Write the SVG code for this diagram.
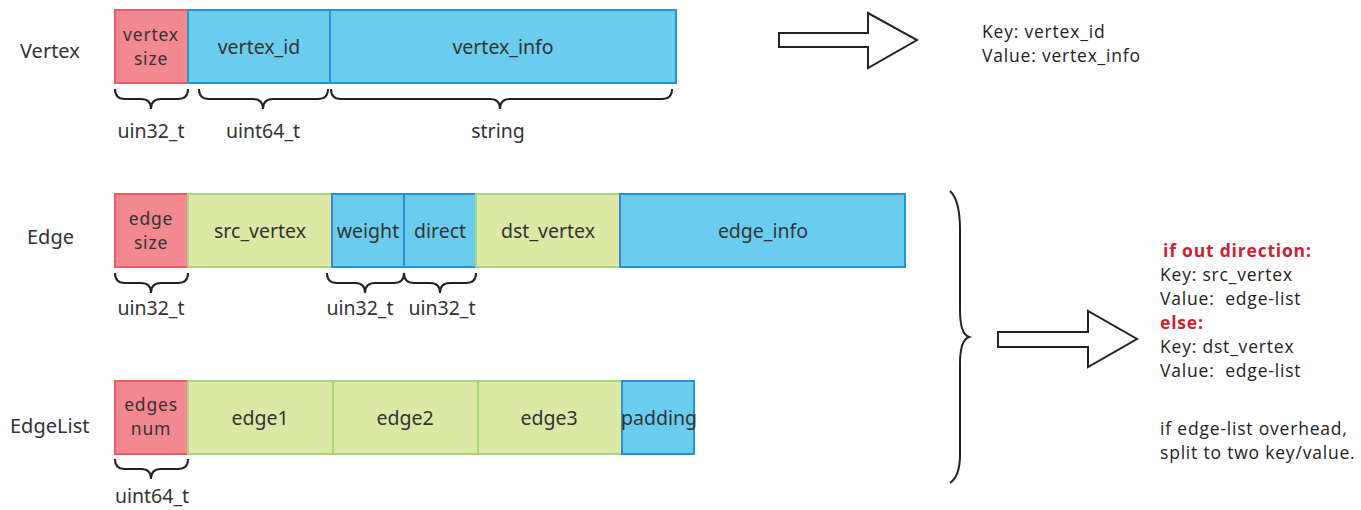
<svg xmlns="http://www.w3.org/2000/svg" width="1361" height="510" viewBox="0 0 1361 510">
<style>
.r{fill:#f4888f;stroke:#ef5a68;stroke-width:2}
.b{fill:#6bcdee;stroke:#2a90d6;stroke-width:2}
.g{fill:#dce8a6;stroke:#a9d67a;stroke-width:2}
.t{font-family:"Noto Sans","Liberation Sans",sans-serif;font-size:19.5px;fill:#333;text-anchor:middle;dominant-baseline:central}
.s{font-family:"Noto Sans","Liberation Sans",sans-serif;font-size:17.5px;letter-spacing:0.8px;fill:#333;text-anchor:middle;dominant-baseline:central}
.l{font-family:"Noto Sans","Liberation Sans",sans-serif;font-size:20px;fill:#333}
.k{font-family:"Open Sans","Liberation Sans",sans-serif;font-size:17.5px;letter-spacing:0.8px;fill:#222;white-space:pre}
.h{font-family:"Open Sans","Liberation Sans",sans-serif;font-size:17.5px;letter-spacing:0.8px;fill:#d0202f;font-weight:bold}
.br{fill:none;stroke:#222;stroke-width:2}
.ar{fill:#fff;stroke:#222;stroke-width:2}
</style>
<g id="labels">
<text class="l" x="20" y="58">Vertex</text>
<text class="l" x="27" y="244">Edge</text>
<text class="l" x="10" y="433">EdgeList</text>
</g>
<g id="vertex">
<rect class="r" x="115" y="10" width="73" height="73"/>
<rect class="b" x="188" y="10" width="142" height="73"/>
<rect class="b" x="330" y="10" width="346" height="73"/>
<text class="s" x="151" y="34">vertex</text>
<text class="s" x="151" y="58">size</text>
<text class="t" x="259" y="46">vertex_id</text>
<text class="t" x="503" y="46">vertex_info</text>
<path class="br" d="M115 89 Q115 99 125 99 L141 99 Q151 99 151 109 Q151 99 161 99 L178 99 Q188 99 188 89"/>
<path class="br" d="M199 89 Q199 99 209 99 L253 99 Q263 99 263 109 Q263 99 273 99 L318 99 Q328 99 328 89"/>
<path class="br" d="M331 89 Q331 99 341 99 L490 99 Q500 99 500 109 Q500 99 510 99 L662 99 Q672 99 672 89"/>
<text class="t" x="151" y="130">uin32_t</text>
<text class="t" x="263" y="130">uint64_t</text>
<text class="t" x="498" y="130">string</text>
</g>
<g id="edge">
<rect class="r" x="115" y="194" width="73" height="73"/>
<rect class="g" x="188" y="194" width="144" height="73"/>
<rect class="b" x="332" y="194" width="72" height="73"/>
<rect class="b" x="404" y="194" width="72" height="73"/>
<rect class="g" x="476" y="194" width="144" height="73"/>
<rect class="b" x="620" y="194" width="285" height="73"/>
<text class="s" x="151" y="218">edge</text>
<text class="s" x="151" y="242">size</text>
<text class="t" x="260" y="230">src_vertex</text>
<text class="t" x="368" y="230">weight</text>
<text class="t" x="440" y="230">direct</text>
<text class="t" x="548" y="230">dst_vertex</text>
<text class="t" x="763" y="230">edge_info</text>
<path class="br" d="M115 273 Q115 283 125 283 L141 283 Q151 283 151 293 Q151 283 161 283 L178 283 Q188 283 188 273"/>
<path class="br" d="M327 273 Q327 283 337 283 L355 283 Q365 283 365 293 Q365 283 375 283 L394 283 Q404 283 404 273"/>
<path class="br" d="M404 273 Q404 283 414 283 L430 283 Q440 283 440 293 Q440 283 450 283 L466 283 Q476 283 476 273"/>
<text class="t" x="151" y="307">uin32_t</text>
<text class="t" x="360" y="307">uin32_t</text>
<text class="t" x="442" y="307">uin32_t</text>
</g>
<g id="edgelist">
<rect class="r" x="115" y="381" width="73" height="73"/>
<rect class="g" x="188" y="381" width="145" height="73"/>
<rect class="g" x="333" y="381" width="145" height="73"/>
<rect class="g" x="478" y="381" width="144" height="73"/>
<rect class="b" x="622" y="381" width="72" height="73"/>
<text class="s" x="151" y="404">edges</text>
<text class="s" x="151" y="428">num</text>
<text class="t" x="260" y="417">edge1</text>
<text class="t" x="405" y="417">edge2</text>
<text class="t" x="549" y="417">edge3</text>
<text class="t" x="659" y="417">padding</text>
<path class="br" d="M115 459 Q115 469 125 469 L141 469 Q151 469 151 479 Q151 469 161 469 L178 469 Q188 469 188 459"/>
<text class="t" x="152" y="495">uint64_t</text>
</g>
<g id="connectors">
<path class="ar" d="M779 33 L868 33 L868 13 L917 40 L868 68 L868 47 L779 47 Z"/>
<path class="br" d="M950 191 Q960 200 960 230 L960 310 Q960 334 969 337 Q960 340 960 364 L960 455 Q960 476 950 483"/>
<path class="ar" d="M998 332 L1088 332 L1088 311 L1137 339 L1088 367 L1088 347 L998 347 Z"/>
</g>
<g id="kv1">
<text class="k" x="982" y="38">Key: vertex_id</text>
<text class="k" x="982" y="62">Value: vertex_info</text>
</g>
<g id="kv2">
<text class="h" x="1163" y="257">if out direction:</text>
<text class="k" x="1160" y="281">Key: src_vertex</text>
<text class="k" x="1160" y="305">Value:  edge-list</text>
<text class="h" x="1160" y="329">else:</text>
<text class="k" x="1160" y="353">Key: dst_vertex</text>
<text class="k" x="1160" y="377">Value:  edge-list</text>
<text class="k" x="1160" y="435">if edge-list overhead,</text>
<text class="k" x="1160" y="459">split to two key/value.</text>
</g>
</svg>
